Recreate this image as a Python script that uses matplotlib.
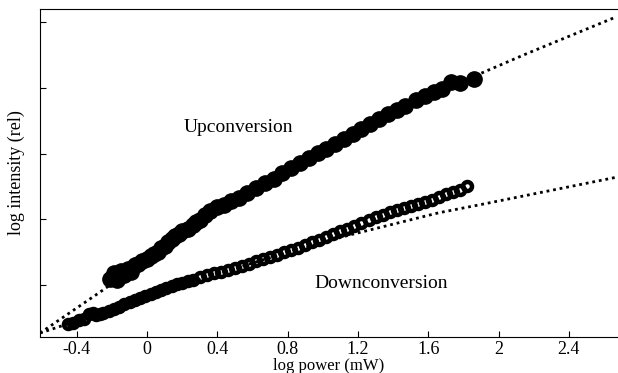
import matplotlib
matplotlib.use('Agg')
from matplotlib import pyplot as plt

plt.rcParams['font.family'] = ['Liberation Serif', 'DejaVu Serif']

# upconversion data (log power, log intensity)
upX = [-0.21, -0.19, -0.17, -0.15, -0.13, -0.11, -0.09, -0.07, -0.05, -0.03,
       0.00, 0.02, 0.04, 0.06, 0.08, 0.10, 0.12, 0.14, 0.16, 0.18,
       0.20, 0.23, 0.26, 0.28, 0.30, 0.33, 0.36, 0.40, 0.44, 0.48,
       0.52, 0.57, 0.62, 0.67, 0.72, 0.77, 0.82, 0.87, 0.92, 0.97,
       1.02, 1.07, 1.12, 1.17, 1.22, 1.27, 1.32, 1.37, 1.42, 1.47,
       1.53, 1.58, 1.63, 1.68, 1.73, 1.78, 1.86]
upY = [0.10, 0.18, 0.08, 0.22, 0.15, 0.24, 0.20, 0.30, 0.32, 0.36,
       0.40, 0.44, 0.47, 0.50, 0.56, 0.60, 0.66, 0.70, 0.74, 0.78,
       0.82, 0.86, 0.92, 0.96, 0.99, 1.06, 1.12, 1.19, 1.22, 1.28,
       1.33, 1.40, 1.47, 1.55, 1.62, 1.70, 1.78, 1.86, 1.93, 2.01,
       2.07, 2.14, 2.22, 2.30, 2.37, 2.45, 2.53, 2.60, 2.66, 2.73,
       2.82, 2.87, 2.93, 2.98, 3.09, 3.07, 3.13]

# downconversion data
downX = [-0.45, -0.42, -0.39, -0.36, -0.33, -0.31, -0.29, -0.27, -0.25, -0.22,
         -0.19, -0.16, -0.13, -0.10, -0.07, -0.04, -0.01, 0.02, 0.05, 0.08,
         0.11, 0.14, 0.17, 0.20, 0.23, 0.26, 0.30, 0.34, 0.38, 0.42,
         0.46, 0.50, 0.54, 0.58, 0.62, 0.66, 0.70, 0.74, 0.78, 0.82,
         0.86, 0.90, 0.94, 0.98, 1.02, 1.06, 1.10, 1.14, 1.18, 1.22,
         1.26, 1.30, 1.34, 1.38, 1.42, 1.46, 1.50, 1.54, 1.58, 1.62,
         1.66, 1.70, 1.74, 1.78, 1.82]
downY = [-0.59, -0.57, -0.53, -0.52, -0.44, -0.42, -0.46, -0.44, -0.42, -0.40,
         -0.37, -0.33, -0.29, -0.26, -0.23, -0.19, -0.16, -0.13, -0.11, -0.08,
         -0.05, -0.02, 0.01, 0.03, 0.06, 0.08, 0.12, 0.15, 0.18, 0.20,
         0.23, 0.26, 0.29, 0.32, 0.36, 0.39, 0.43, 0.46, 0.50, 0.53,
         0.57, 0.61, 0.65, 0.69, 0.73, 0.78, 0.82, 0.86, 0.90, 0.95,
         0.99, 1.03, 1.07, 1.11, 1.14, 1.17, 1.21, 1.24, 1.27, 1.30,
         1.34, 1.38, 1.41, 1.44, 1.51]

# fitted curves (dotted)
upFitX = [-0.61, -0.27, 0.00, 0.40, 0.80, 1.20, 1.60, 1.89, 2.16, 2.67]
upFitY = [-0.73, -0.11, 0.40, 1.12, 1.72, 2.32, 2.87, 3.21, 3.52, 4.08]
downFitX = [-0.61, -0.44, 0.00, 0.40, 0.80, 1.15, 1.66, 1.89, 2.67]
downFitY = [-0.73, -0.58, -0.17, 0.17, 0.50, 0.76, 1.10, 1.22, 1.64]

xTicks = [-0.4, 0, 0.4, 0.8, 1.2, 1.6, 2, 2.4]
xTickLabels = ['-0.4', '0', '0.4', '0.8', '1.2', '1.6', '2', '2.4']
yTicks = [0, 1, 2, 3, 4]

fig = plt.figure(figsize=(6.18, 3.73), dpi=100)
ax = fig.add_axes([0.0647, 0.0965, 0.9353, 0.8794])

ax.plot(upFitX, upFitY, color='black', lw=2, linestyle=(0, (1, 1.4)))
ax.plot(downFitX, downFitY, color='black', lw=2, linestyle=(0, (1, 1.4)))
ax.plot(upX, upY, 'o', color='black', ms=11, mec='black')
ax.plot(downX, downY, 'o', mfc='none', mec='black', ms=6.5, mew=3.2)

ax.text(0.52, 2.39, 'Upconversion', fontsize=14, ha='center', va='center')
ax.text(1.33, 0.03, 'Downconversion', fontsize=14, ha='center', va='center')

ax.set_xlim(-0.61, 2.68)
ax.set_ylim(-0.79, 4.2)
ax.set_xticks(xTicks)
ax.set_xticklabels(xTickLabels)
ax.set_yticks(yTicks)
ax.set_yticklabels([])
ax.tick_params(direction='in', length=4, labelsize=13, pad=3)
ax.spines['right'].set_visible(False)
ax.set_xlabel('log power (mW)', fontsize=12, labelpad=0)
ax.set_ylabel('log intensity (rel)', fontsize=13, labelpad=8)

plt.savefig('out.png', dpi=100)
